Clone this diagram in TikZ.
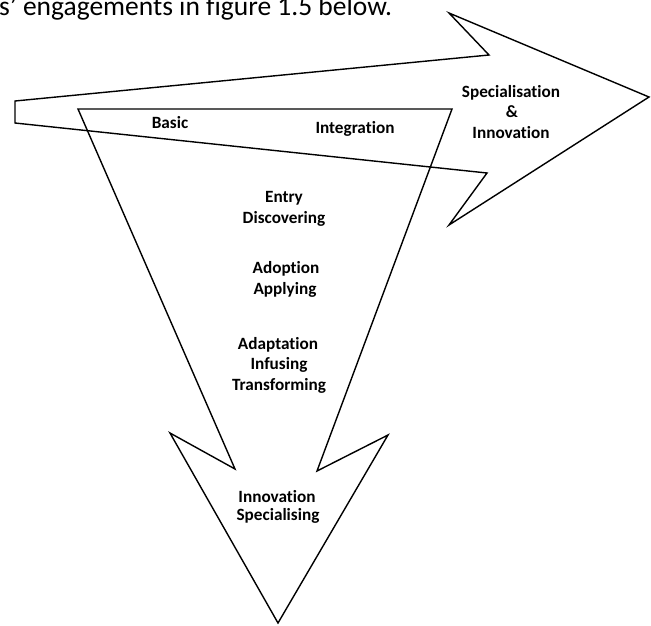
\documentclass[tikz,border=0pt]{standalone}
\usepackage{fontspec}
\setmainfont[Ligatures={NoCommon}]{Carlito}
\begin{document}
\begin{tikzpicture}[x=1pt,y=-1pt,
  outline/.style={draw=black,line width=1.4pt,line join=miter},
  lbl/.style={font=\fontsize{17.2}{21}\selectfont\bfseries,inner sep=0pt,anchor=base},
  toptext/.style={font=\fontsize{27.5}{30}\selectfont,inner sep=0pt,anchor=base west}]
\useasboundingbox (0,0) rectangle (651,625);
% caption fragment at top
\node[toptext] (cap) at (-1,15) {s' engagements in figure 1.5 below.};
% horizontal arrow
\coordinate (tailT) at (15,101);
\coordinate (notchT) at (489,55);
\coordinate (barbT) at (449,13);
\coordinate (tipR) at (649,97);
\coordinate (barbB) at (449,225);
\coordinate (notchB) at (487,173);
\coordinate (tailB) at (15,123);
\draw[outline] (tailT) -- (notchT) -- (barbT) -- (tipR) -- (barbB) -- (notchB) -- (tailB) -- cycle;
% downward arrow
\coordinate (topL) at (78,109);
\coordinate (topR) at (452,109);
\coordinate (notchR) at (317,471);
\coordinate (barbR) at (388,435);
\coordinate (tipD) at (278,623);
\coordinate (barbL) at (170,433);
\coordinate (notchL) at (235,469);
\draw[outline] (topL) -- (topR) -- (notchR) -- (barbR) -- (tipD) -- (barbL) -- (notchL) -- cycle;
% labels
\node[lbl] (spec) at (511,97) {Specialisation};
\node[lbl] (amp) at (512,117) {\&};
\node[lbl] (innovR) at (511,138) {Innovation};
\node[lbl] (basic) at (170,128) {Basic};
\node[lbl] (integ) at (355,133) {Integration};
\node[lbl] (entry) at (284,202) {Entry};
\node[lbl] (disc) at (284,223) {Discovering};
\node[lbl] (adop) at (286,273) {Adoption};
\node[lbl] (appl) at (285,294) {Applying};
\node[lbl] (adap) at (278,349) {Adaptation};
\node[lbl] (infu) at (279,369) {Infusing};
\node[lbl] (trans) at (279,390) {Transforming};
\node[lbl] (innovD) at (277,502) {Innovation};
\node[lbl] (specD) at (278,520) {Specialising};
\end{tikzpicture}
\end{document}
